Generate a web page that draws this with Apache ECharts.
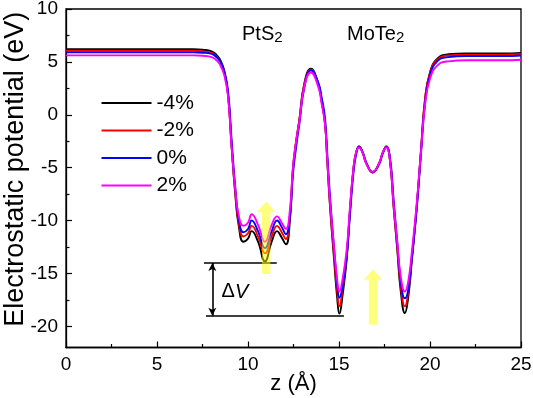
<!DOCTYPE html>
<html><head><meta charset="utf-8">
<script src="https://cdn.jsdelivr.net/npm/echarts@6/dist/echarts.min.js"></script>
<style>html,body{margin:0;padding:0;background:#fff}#c{width:533px;height:398px}</style>
</head><body><div id="c"></div>
<script>
const FONT = 'Liberation Sans, Arial, sans-serif';
const zPos = [0, 2, 4, 6, 7, 7.5, 8, 8.3, 8.5, 8.7, 8.9, 9.1, 9.3, 9.5, 9.75, 10.0, 10.2, 10.55, 10.93, 11.3, 11.6, 11.85, 12.08, 12.3, 12.47, 12.65, 12.82, 13.1, 13.45, 13.85, 14.05, 14.23, 14.35, 14.5, 14.73, 14.9, 15.02, 15.2, 15.42, 15.6, 15.8, 15.95, 16.1, 16.3, 16.5, 16.85, 17.2, 17.4, 17.6, 17.8, 18.0, 18.2, 18.4, 18.62, 18.8, 19.0, 19.27, 19.5, 19.73, 20.0, 20.4, 21.0, 22, 23, 24, 25];
const strainNames = ['-4%', '-2%', '0%', '2%'];
const vMinus4 = [6.2, 6.2, 6.2, 6.2, 6.2, 6.15, 6.0, 5.6, 5.1, 4.1, 2.0, -3.0, -7.5, -10.6, -12.0, -11.7, -11.0, -12.0, -13.85, -12.0, -11.0, -11.6, -12.25, -10.0, -5.2, -2.5, -0.5, 3.0, 4.35, 3.0, 1.3, -0.8, -4.2, -8.5, -13.7, -17.3, -18.8, -17.0, -13.7, -9.2, -5.0, -3.5, -3.0, -3.6, -4.6, -5.45, -4.6, -3.6, -3.0, -4.3, -8.7, -12.7, -16.8, -18.75, -17.3, -13.8, -8.7, -3.5, 1.5, 4.0, 5.3, 5.72, 5.8, 5.8, 5.8, 5.85];
const vMinus2 = [6.05, 6.05, 6.05, 6.05, 6.05, 6.0, 5.85, 5.45, 4.95, 4.0, 1.9, -3.0, -7.3, -10.3, -11.5, -11.2, -10.5, -11.5, -13.1, -11.5, -10.5, -11.1, -11.75, -9.6, -5.0, -2.4, -0.5, 2.9, 4.25, 2.9, 1.2, -0.8, -4.1, -8.3, -13.3, -16.7, -18.1, -16.4, -13.2, -9.0, -5.0, -3.5, -3.0, -3.6, -4.6, -5.45, -4.6, -3.6, -3.0, -4.3, -8.6, -12.5, -16.3, -18.1, -16.8, -13.5, -8.6, -3.4, 1.5, 3.9, 5.2, 5.6, 5.68, 5.68, 5.68, 5.72];
const vZero = [5.9, 5.9, 5.9, 5.9, 5.9, 5.87, 5.75, 5.4, 4.95, 4.1, 2.3, -2.4, -6.8, -9.9, -11.1, -10.8, -10.0, -11.0, -12.6, -11.0, -10.0, -10.6, -11.3, -9.6, -5.6, -3.0, -0.9, 2.6, 4.2, 3.1, 1.6, -0.3, -3.5, -7.6, -12.6, -16.0, -17.3, -16.2, -13.4, -9.5, -5.4, -3.7, -3.05, -3.5, -4.5, -5.4, -4.7, -3.7, -3.05, -4.0, -8.0, -12.0, -15.8, -17.35, -16.6, -13.6, -8.9, -3.8, 1.1, 3.7, 5.05, 5.45, 5.55, 5.55, 5.55, 5.6];
const vPlus2 = [5.62, 5.62, 5.62, 5.62, 5.62, 5.58, 5.45, 5.1, 4.6, 3.7, 1.8, -3.0, -7.0, -9.6, -10.5, -10.2, -9.4, -10.4, -12.0, -10.4, -9.6, -10.2, -10.8, -9.0, -5.0, -2.5, -0.7, 2.7, 4.0, 2.7, 1.0, -0.9, -4.0, -8.0, -12.6, -15.6, -16.7, -15.5, -12.8, -8.8, -5.0, -3.5, -3.1, -3.6, -4.6, -5.4, -4.6, -3.6, -3.1, -4.3, -8.4, -12.0, -15.4, -16.7, -15.8, -13.0, -8.4, -3.6, 1.0, 3.4, 4.65, 5.05, 5.15, 5.15, 5.15, 5.2];
const yMajorTicks = [-20, -15, -10, -5, 0, 5, 10];
const yMinorTicks = [-17.5, -12.5, -7.5, -2.5, 2.5, 7.5];
// yellow arrows: position, tail value, tip value
const arrowZ = [11.0, 16.87];
const arrowTail = [-15.05, -19.85];
const arrowTip = [-8.2, -14.6];
// delta V bracket
const dvTop = -14, dvBottom = -19;
const dvTopSpan = [7.58, 11.58];
const dvBottomSpan = [7.69, 15.27];
const dvArrowZ = 8.04;
const dvLabelPos = [8.55, -16.75];
const materialNames = ['PtS', 'MoTe'];
const materialPos = [[9.67, 6.55], [15.44, 6.55]];

const colors = ['#000000', '#ff0000', '#0000ff', '#ff00ff'];
const seriesVals = [vMinus4, vMinus2, vZero, vPlus2];

const chart = echarts.init(document.getElementById('c'), null, {renderer: 'canvas'});
const lineSeries = seriesVals.map((vals, i) => ({
  type: 'line', name: strainNames[i],
  data: zPos.map((z, k) => [z, vals[k]]),
  symbol: 'none', showSymbol: false, smooth: 0.5,
  lineStyle: {color: colors[i], width: 1.9},
  itemStyle: {color: colors[i]},
  z: 3 + i, silent: true
}));

const option = {
  animation: false,
  grid: {left: 66, right: 12, top: 9, bottom: 50.5, containLabel: false, outerBoundsMode: 'none',
         show: true, borderColor: '#000', borderWidth: 1.3},
  legend: {
    data: strainNames.map(n => ({name: n, icon: 'rect'})), orient: 'vertical', left: 101.5, top: 92.5,
    padding: 0, itemWidth: 50, itemHeight: 1.8, itemGap: 6.5,
    textStyle: {fontSize: 21, lineHeight: 20.5, color: '#000', fontFamily: FONT}
  },
  xAxis: {
    type: 'value', min: 0, max: 25, interval: 5,
    axisLine: {show: true, onZero: false, lineStyle: {color: '#000', width: 1.3}},
    axisTick: {show: true, inside: true, length: 6, lineStyle: {color: '#000', width: 1.2}},
    minorTick: {show: true, splitNumber: 2, length: 3.5, lineStyle: {color: '#000', width: 1.2}},
    splitLine: {show: false},
    axisLabel: {color: '#000', fontSize: 19, fontFamily: FONT, margin: 8},
    name: 'z (Å)', nameLocation: 'middle', nameGap: 25, nameMoveOverlap: false,
    nameTextStyle: {fontSize: 22, color: '#000', fontFamily: FONT, verticalAlign: 'top'}
  },
  yAxis: [{
    type: 'value', min: -22, max: 10,
    axisLine: {show: true, onZero: false, lineStyle: {color: '#000', width: 1.3}},
    axisTick: {show: true, inside: true, length: 6, customValues: yMajorTicks, lineStyle: {color: '#000', width: 1.2}},
    splitLine: {show: false},
    axisLabel: {color: '#000', fontSize: 19, fontFamily: FONT, margin: 8, customValues: yMajorTicks},
    name: 'Electrostatic potential (eV)', nameLocation: 'middle', nameGap: 37, nameMoveOverlap: false,
    nameTextStyle: {fontSize: 27, color: '#000', fontFamily: FONT, padding: [0, 0, 0, 18]}
  }, {
    type: 'value', min: -22, max: 10, position: 'left', offset: 0,
    axisLine: {show: false, onZero: false},
    axisTick: {show: true, inside: true, length: 3.5, customValues: yMinorTicks, lineStyle: {color: '#000', width: 1.2}},
    splitLine: {show: false},
    axisLabel: {show: false}
  }],
  series: lineSeries.concat([
    {
      type: 'custom', coordinateSystem: 'cartesian2d', silent: true, z: 20,
      data: arrowZ.map((z, i) => [z, arrowTail[i], arrowTip[i]]),
      encode: {x: 0, y: [1, 2]},
      renderItem: (params, api) => {
        const base = api.coord([api.value(0), api.value(1)]);
        const tip = api.coord([api.value(0), api.value(2)]);
        const x = base[0], hw = 4.2, hh = 9.5, hl = 10.5;
        const pts = [[x - hw, base[1]], [x - hw, tip[1] + hl], [x - hh, tip[1] + hl], [x, tip[1]],
                     [x + hh, tip[1] + hl], [x + hw, tip[1] + hl], [x + hw, base[1]]];
        return {type: 'polygon', shape: {points: pts}, style: {fill: 'rgba(255,255,0,0.5)'}};
      }
    },
    {
      type: 'line', name: 'dv', data: [], silent: true, z: 15,
      markLine: {
        silent: true, symbol: 'none', animation: false,
        label: {show: false},
        lineStyle: {color: '#000', width: 1.6, type: 'solid'},
        data: [
          [{coord: [dvTopSpan[0], dvTop]}, {coord: [dvTopSpan[1], dvTop]}],
          [{coord: [dvBottomSpan[0], dvBottom]}, {coord: [dvBottomSpan[1], dvBottom]}],
          [{coord: [dvArrowZ, dvTop], symbol: 'arrow', symbolSize: [6, 8]},
           {coord: [dvArrowZ, dvBottom], symbol: 'arrow', symbolSize: [6, 8]}]
        ]
      }
    }
  ])
};
chart.setOption(option);

const graphics = [];
materialNames.forEach((nm, i) => {
  const p = chart.convertToPixel({xAxisIndex: 0, yAxisIndex: 0}, materialPos[i]);
  graphics.push({
    type: 'text', x: p[0], y: p[1], silent: true, z: 30,
    style: {
      text: '{a|' + nm + '}{b|2}', x: 0, y: 0, align: 'left', verticalAlign: 'bottom',
      rich: {
        a: {fontSize: 20, fontFamily: FONT, fill: '#000', verticalAlign: 'top', lineHeight: 21},
        b: {fontSize: 15, fontFamily: FONT, fill: '#000', verticalAlign: 'bottom', lineHeight: 15, padding: [10, 0, 0, 0]}
      }
    }
  });
});
const dvp = chart.convertToPixel({xAxisIndex: 0, yAxisIndex: 0}, dvLabelPos);
graphics.push({
  type: 'text', x: dvp[0], y: dvp[1], silent: true, z: 30,
  style: {
    text: '{d|Δ}{v|V}', align: 'left', verticalAlign: 'middle',
    rich: {
      d: {fontSize: 20, fontFamily: FONT, fill: '#000'},
      v: {fontSize: 20, fontFamily: FONT, fill: '#000', fontStyle: 'italic'}
    }
  }
});
chart.setOption({graphic: graphics});
</script>
</body></html>
